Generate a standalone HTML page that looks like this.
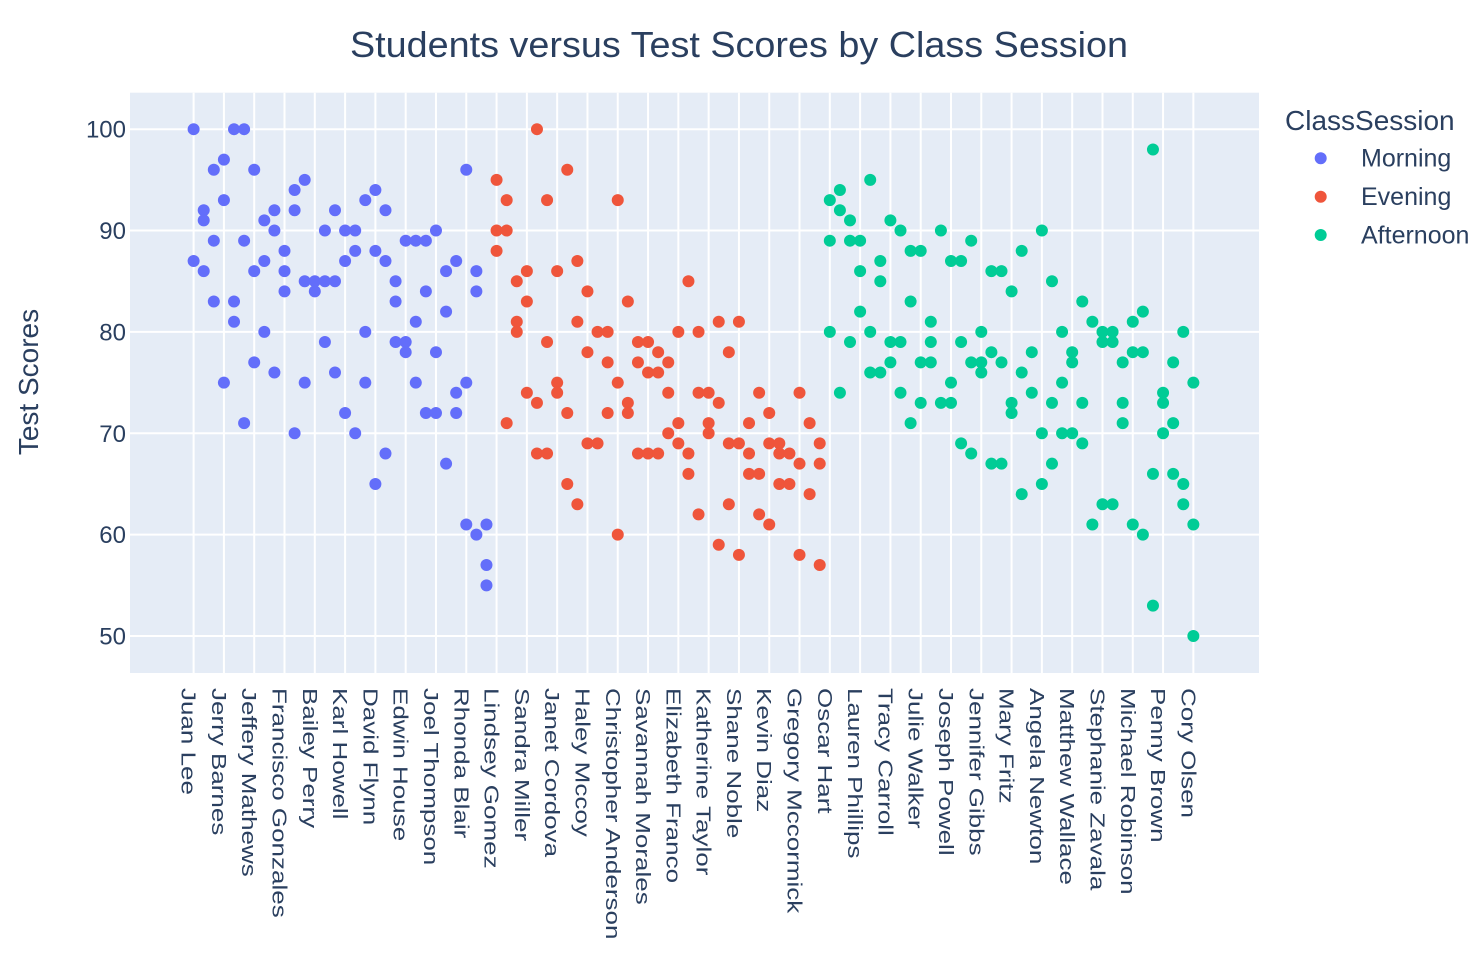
<!DOCTYPE html>
<html><head><meta charset="utf-8"><style>
html,body{margin:0;padding:0;background:#fff;}
svg{display:block;font-family:"Liberation Sans",sans-serif;}
</style></head><body>
<svg id="chart" width="1482" height="976" viewBox="0 0 1482 976" xmlns="http://www.w3.org/2000/svg">
<rect x="130" y="92.7" width="1129" height="580.3" fill="#e5ecf6"/>
<g id="grid"></g>
<g id="yticks"></g>
<g id="xticks"></g>
<g id="marks"></g>
<text x="739" y="57" text-anchor="middle" font-size="36" textLength="778" lengthAdjust="spacingAndGlyphs" fill="#2a3f5f">Students versus Test Scores by Class Session</text>
<text transform="translate(38,382) rotate(-90)" text-anchor="middle" font-size="28" fill="#2a3f5f">Test Scores</text>
<g>
<text x="1285" y="130" font-size="28" fill="#2a3f5f">ClassSession</text>
<g><circle cx="1320.7" cy="158.3" r="6" fill="#636efa"/><text x="1361" y="166.7" font-size="25" fill="#2a3f5f">Morning</text></g>
<g><circle cx="1320.7" cy="196.7" r="6" fill="#EF553B"/><text x="1361" y="205" font-size="25" fill="#2a3f5f">Evening</text></g>
<g><circle cx="1320.7" cy="235" r="6" fill="#00cc96"/><text x="1361" y="243.3" font-size="25" fill="#2a3f5f">Afternoon</text></g>
</g>
</svg>
<script>
const tickNames = ["Juan Lee","Jerry Barnes","Jeffery Mathews","Francisco Gonzales","Bailey Perry","Karl Howell","David Flynn","Edwin House","Joel Thompson","Rhonda Blair","Lindsey Gomez","Sandra Miller","Janet Cordova","Haley Mccoy","Christopher Anderson","Savannah Morales","Elizabeth Franco","Katherine Taylor","Shane Noble","Kevin Diaz","Gregory Mccormick","Oscar Hart","Lauren Phillips","Tracy Carroll","Julie Walker","Joseph Powell","Jennifer Gibbs","Mary Fritz","Angela Newton","Matthew Wallace","Stephanie Zavala","Michael Robinson","Penny Brown","Cory Olsen"];
const yTicks = [50,60,70,80,90,100];
const morningStart = 0;
const morningScores = [[100,87],[92,91,86],[96,89,83],[97,93,75],[100,83,81],[100,89,71],[96,86,77],[91,87,80],[92,90,76],[88,86,84],[94,92,70],[95,85,75],[85,84],[90,85,79],[92,85,76],[90,87,72],[90,88,70],[93,80,75],[94,88,65],[92,87,68],[85,83,79],[89,79,78],[89,81,75],[89,84,72],[90,78,72],[86,82,67],[87,74,72],[96,75,61],[86,84,60],[61,57,55]];
const eveningStart = 30;
const eveningScores = [[95,90,88],[93,90,71],[85,81,80],[86,83,74],[100,73,68],[93,79,68],[86,75,74],[96,72,65],[87,81,63],[84,78,69],[80,69],[80,77,72],[93,75,60],[83,73,72],[79,77,68],[79,76,68],[78,76,68],[77,74,70],[80,71,69],[85,68,66],[80,74,62],[74,71,70],[81,73,59],[78,69,63],[81,69,58],[71,68,66],[74,66,62],[72,69,61],[69,68,65],[68,65],[74,67,58],[71,64],[69,67,57]];
const afternoonStart = 63;
const afternoonScores = [[93,89,80],[94,92,74],[91,89,79],[89,86,82],[95,80,76],[87,85,76],[91,79,77],[90,79,74],[88,83,71],[88,77,73],[81,79,77],[90,73],[87,75,73],[87,79,69],[89,77,68],[80,77,76],[86,78,67],[86,77,67],[84,73,72],[88,76,64],[78,74],[90,70,65],[85,73,67],[80,75,70],[78,77,70],[83,73,69],[81,61],[80,79,63],[80,79,63],[77,73,71],[81,78,61],[82,78,60],[98,66,53],[74,73,70],[77,71,66],[80,65,63],[75,61,50]];

const NS = "http://www.w3.org/2000/svg";
const X0 = 130, X1 = 1259, Y0 = 92.7, Y1 = 673;
const xMin = -6.3, xMax = 105.5, yMin = 46.35, yMax = 103.6;
function xs(c){ return X0 + (c - xMin) / (xMax - xMin) * (X1 - X0); }
function ys(v){ return Y1 - (v - yMin) / (yMax - yMin) * (Y1 - Y0); }
function mk(tag, attrs){ const e = document.createElementNS(NS, tag); for (const k in attrs) e.setAttribute(k, attrs[k]); return e; }

const grid = document.getElementById('grid');
const yt = document.getElementById('yticks');
const xt = document.getElementById('xticks');
const marks = document.getElementById('marks');

yTicks.forEach(v => {
  const l = mk('line', {x1: X0, x2: X1, y1: ys(v), y2: ys(v), stroke: '#fff', 'stroke-width': 2});
  
  
  grid.appendChild(l);
  const t = mk('text', {x: 126, y: ys(v) + 8.5, 'text-anchor': 'end', 'font-size': 24, fill: '#2a3f5f'});
  t.textContent = v;
  
  
  yt.appendChild(t);
});

tickNames.forEach((n, i) => {
  const c = i * 3;
  const l = mk('line', {x1: xs(c), x2: xs(c), y1: Y0, y2: Y1, stroke: '#fff', 'stroke-width': 2});
  
  
  grid.appendChild(l);
  const t = mk('text', {transform: 'translate(' + (xs(c) - 12) + ',688) rotate(90) scale(1.3,1)', 'font-size': 20, fill: '#2a3f5f'});
  t.textContent = n;
  
  
  xt.appendChild(t);
});

function drawSeries(start, scores, color, name){
  scores.forEach((col, j) => {
    col.forEach(v => {
      const p = mk('circle', {cx: xs(start + j), cy: ys(v), r: 6, fill: color});
      
      
      marks.appendChild(p);
    });
  });
}
drawSeries(morningStart, morningScores, '#636efa', 'morning');
drawSeries(eveningStart, eveningScores, '#EF553B', 'evening');
drawSeries(afternoonStart, afternoonScores, '#00cc96', 'afternoon');
</script>
</body></html>
